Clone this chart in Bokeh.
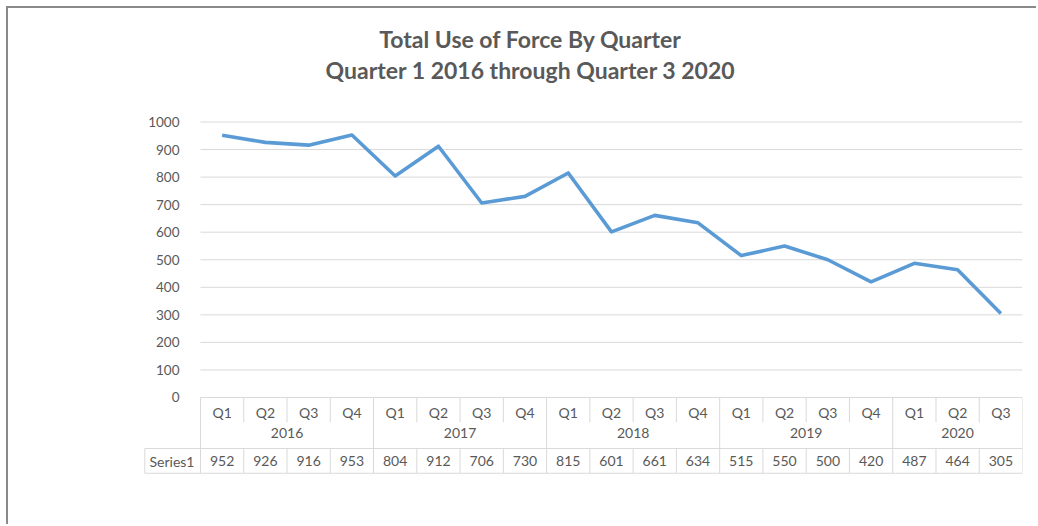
from bokeh.plotting import figure
from bokeh.models import FixedTicker, ColumnDataSource, Range1d, InlineStyleSheet
from bokeh.core.properties import value
from bokeh.embed import file_html
from bokeh.resources import INLINE

# ---- data ----
quarters = ["Q1", "Q2", "Q3", "Q4", "Q1", "Q2", "Q3", "Q4", "Q1", "Q2", "Q3", "Q4",
            "Q1", "Q2", "Q3", "Q4", "Q1", "Q2", "Q3"]
years = ["2016", "2017", "2018", "2019", "2020"]
quarters_per_year = [4, 4, 4, 4, 3]
series_name = "Series1"
values = [952, 926, 916, 953, 804, 912, 706, 730, 815, 601, 661, 634,
          515, 550, 500, 420, 487, 464, 305]
y_ticks = [0, 100, 200, 300, 400, 500, 600, 700, 800, 900, 1000]
title_lines = ["Total Use of Force By Quarter", "Quarter 1 2016 through Quarter 3 2020"]

FONT = "Lato"
TXT = "#595959"
GRID = "#d9d9d9"
n = len(values)
xs = list(range(n))

# table rows (in data units below zero)
ROW_Q = -53
ROW_SPLIT = -90
ROW_Y = -130
ROW_MID = -185
ROW_V = -232
ROW_BOT = -275
LEFT_CELL = -1.8175

p = figure(width=1030, height=518, output_backend="svg", toolbar_location=None,
           x_range=Range1d(LEFT_CELL, n - 0.5), y_range=Range1d(-301.3, 1386.6),
           x_axis_location=None, min_border_left=135, min_border_right=16,
           min_border_top=7, min_border_bottom=46)
p.outline_line_color = None
p.xgrid.visible = False
p.ygrid.visible = False
p.stylesheets = [InlineStyleSheet(css=":host { margin-left: 6px; margin-top: 6px; "
                                      "border-left: 2px solid #8a8a8a; border-top: 2px solid #8a8a8a; }")]

# y axis
ax = p.yaxis[0]
ax.ticker = FixedTicker(ticks=y_ticks)
ax.fixed_location = -0.5
ax.axis_line_color = None
ax.major_tick_line_color = None
ax.minor_tick_line_color = None
ax.major_label_standoff = 15
ax.major_label_text_font = FONT
ax.major_label_text_font_size = "13.5px"
ax.major_label_text_color = TXT

# gridlines
p.segment(x0=[-0.5] * len(y_ticks), x1=[n - 0.5] * len(y_ticks), y0=y_ticks, y1=y_ticks,
          line_color=GRID, line_width=1)

# data line
src = ColumnDataSource(dict(x=xs, y=values))
p.line("x", "y", source=src, line_color="#5b9bd5", line_width=3.6, line_join="round")

# ---- data table ----
bounds = [-0.5]
acc = -0.5
for c in quarters_per_year:
    acc += c
    bounds.append(acc)
short_x = [i + 0.5 for i in range(n - 1) if (i + 0.5) not in bounds]
p.segment(x0=short_x, x1=short_x, y0=[0] * len(short_x), y1=[ROW_SPLIT] * len(short_x),
          line_color=GRID, line_width=1)
p.segment(x0=bounds, x1=bounds, y0=[0] * len(bounds), y1=[ROW_MID] * len(bounds),
          line_color=GRID, line_width=1)
vx = [i - 0.5 for i in range(n + 1)] + [LEFT_CELL + 0.03]
p.segment(x0=vx, x1=vx, y0=[ROW_MID] * len(vx), y1=[ROW_BOT] * len(vx),
          line_color=GRID, line_width=1)
p.segment(x0=[LEFT_CELL + 0.03, LEFT_CELL + 0.03], x1=[n - 0.5, n - 0.5],
          y0=[ROW_MID, ROW_BOT], y1=[ROW_MID, ROW_BOT], line_color=GRID, line_width=1)

common = dict(text_font=value(FONT), text_font_size="14px", text_color=TXT,
              text_align="center", text_baseline="middle")
p.text(x=xs, y=[ROW_Q] * n, text=quarters, **common)
year_centers = [(bounds[i] + bounds[i + 1]) / 2 for i in range(len(years))]
p.text(x=year_centers, y=[ROW_Y] * len(years), text=years, **common)
p.text(x=xs, y=[ROW_V] * n, text=[str(v) for v in values], **common)
p.text(x=[(LEFT_CELL - 0.5) / 2], y=[ROW_V], text=[series_name], **common)

# title
p.text(x=[7.13, 7.13], y=[1303, 1187], text=title_lines, text_font=value(FONT),
       text_font_size="23px", text_font_style="bold", text_color=TXT,
       text_align="center", text_baseline="middle")

open("out.html", "w").write(file_html(p, INLINE))
